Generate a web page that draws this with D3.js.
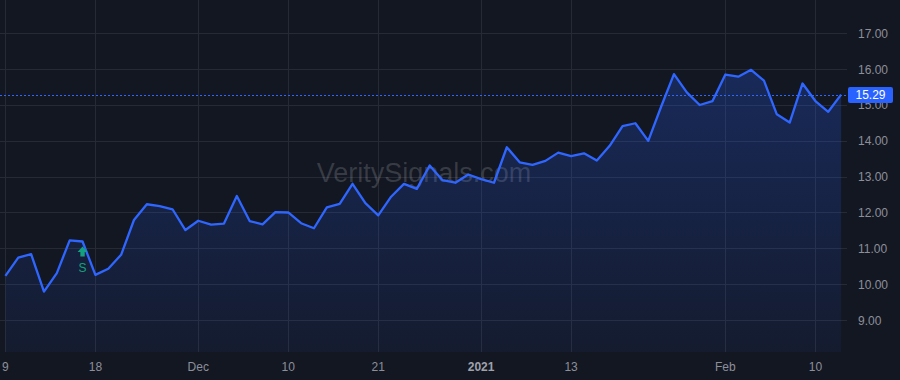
<!DOCTYPE html>
<html>
<head>
<meta charset="utf-8">
<script src="https://cdn.jsdelivr.net/npm/d3@7"></script>
<style>
  html, body { margin: 0; padding: 0; background: #131722; }
  svg { display: block; }
</style>
</head>
<body>
<svg id="chart" width="900" height="380"></svg>
<script>
// ---- data ----
const dates = [
  "2020-11-09","2020-11-10","2020-11-11","2020-11-12","2020-11-13","2020-11-16","2020-11-17","2020-11-18","2020-11-19","2020-11-20",
  "2020-11-23","2020-11-24","2020-11-25","2020-11-27","2020-11-30",
  "2020-12-01","2020-12-02","2020-12-03","2020-12-04","2020-12-07","2020-12-08","2020-12-09","2020-12-10","2020-12-11","2020-12-14",
  "2020-12-15","2020-12-16","2020-12-17","2020-12-18","2020-12-21","2020-12-22","2020-12-23","2020-12-24","2020-12-28","2020-12-29",
  "2020-12-30","2020-12-31",
  "2021-01-04","2021-01-05","2021-01-06","2021-01-07","2021-01-08","2021-01-11","2021-01-12","2021-01-13","2021-01-14","2021-01-15",
  "2021-01-19","2021-01-20","2021-01-21","2021-01-22","2021-01-25","2021-01-26","2021-01-27","2021-01-28","2021-01-29",
  "2021-02-01","2021-02-02","2021-02-03","2021-02-04","2021-02-05","2021-02-08","2021-02-09","2021-02-10","2021-02-11","2021-02-12"
];
const prices = [
  10.23,10.74,10.84,9.79,10.31,11.22,11.19,10.26,10.43,10.82,
  11.79,12.23,12.18,12.09,11.51,
  11.77,11.66,11.69,12.46,11.76,11.67,12.01,12.00,11.70,11.56,
  12.14,12.24,12.80,12.26,11.92,12.44,12.80,12.66,13.31,12.90,
  12.83,13.06,
  12.93,12.83,13.82,13.40,13.33,13.44,13.67,13.57,13.65,13.45,
  13.86,14.41,14.49,14.00,14.95,15.86,15.35,15.00,15.11,
  15.85,15.79,15.98,15.68,14.74,14.51,15.60,15.11,14.81,15.29
];
const xTickDates  = ["2020-11-09","2020-11-18","2020-12-01","2020-12-10","2020-12-21","2021-01-04","2021-01-13","2021-02-01","2021-02-10"];
const xTickLabels = ["9","18","Dec","10","21","2021","13","Feb","10"];
const boldTicks   = ["2021"];
const yTicks      = [9, 10, 11, 12, 13, 14, 15, 16, 17];
const signalDates  = ["2020-11-17"];
const signalLabels = ["S"];
const lastPrice = 15.29;
const watermark = "VeritySignals.com";

// ---- layout ----
const W = 900, H = 380;
const plotRight = 847, plotBottom = 352;
const svg = d3.select("#chart");
const font = "'Liberation Sans', Arial, sans-serif";

const x = d3.scalePoint().domain(dates).range([5.4, 841.1]);
const y = d3.scaleLinear().domain([9, 17]).range([320, 33.3]);

svg.append("rect").attr("width", W).attr("height", H).attr("fill", "#131722");

// grid
const grid = svg.append("g");
grid.selectAll("line.h").data(yTicks).enter().append("line")
  .attr("x1", 0).attr("x2", plotRight)
  .attr("y1", d => Math.round(y(d)) + 0.5).attr("y2", d => Math.round(y(d)) + 0.5)
  .attr("stroke", "#262a35").attr("stroke-width", 1);
grid.selectAll("line.v").data(xTickDates).enter().append("line")
  .attr("x1", d => Math.round(x(d)) + 0.5).attr("x2", d => Math.round(x(d)) + 0.5)
  .attr("y1", 0).attr("y2", plotBottom)
  .attr("stroke", "#262a35").attr("stroke-width", 1);

// watermark
svg.append("text")
  .attr("x", 424).attr("y", 182)
  .attr("text-anchor", "middle")
  .attr("font-family", font).attr("font-size", 27)
  .attr("fill", "rgba(255,255,255,0.16)")
  .text(watermark);

// gradient
const defs = svg.append("defs");
const grad = defs.append("linearGradient").attr("id", "areaGrad")
  .attr("gradientUnits", "userSpaceOnUse")
  .attr("x1", 0).attr("x2", 0)
  .attr("y1", y(d3.max(prices))).attr("y2", plotBottom);
grad.append("stop").attr("offset", 0).attr("stop-color", "#2962ff").attr("stop-opacity", 0.25);
grad.append("stop").attr("offset", 1).attr("stop-color", "#2962ff").attr("stop-opacity", 0.06);

const series = dates.map((d, i) => ({ d, v: prices[i] }));

svg.append("path").datum(series)
  .attr("d", d3.area().x(p => x(p.d)).y0(plotBottom).y1(p => y(p.v)))
  .attr("fill", "url(#areaGrad)");

svg.append("path").datum(series)
  .attr("d", d3.line().x(p => x(p.d)).y(p => y(p.v)))
  .attr("fill", "none").attr("stroke", "#2f66ff").attr("stroke-width", 2.3)
  .attr("stroke-linejoin", "round");

// last price dotted line
svg.append("line")
  .attr("x1", 0).attr("x2", plotRight)
  .attr("y1", Math.round(y(lastPrice)) + 0.5).attr("y2", Math.round(y(lastPrice)) + 0.5)
  .attr("stroke", "#2f66ff").attr("stroke-width", 1).attr("stroke-dasharray", "2,2")
  .attr("shape-rendering", "crispEdges");

// signal markers
const sig = svg.append("g");
signalDates.forEach((sd, i) => {
  const cx = x(sd);
  const pv = prices[dates.indexOf(sd)];
  const top = y(pv) + 5;
  sig.append("path")
    .attr("d", `M${cx},${top} L${cx + 5},${top + 5.5} L${cx + 2.2},${top + 5.5} L${cx + 2.2},${top + 10} L${cx - 2.2},${top + 10} L${cx - 2.2},${top + 5.5} L${cx - 5},${top + 5.5} Z`)
    .attr("fill", "#14a17f");
  sig.append("text")
    .attr("x", cx).attr("y", top + 25)
    .attr("text-anchor", "middle")
    .attr("font-family", font).attr("font-size", 12)
    .attr("fill", "#14a17f")
    .text(signalLabels[i]);
});

// y axis labels
svg.append("g").selectAll("text").data(yTicks).enter().append("text")
  .attr("x", 858).attr("y", d => y(d) + 4.5)
  .attr("font-family", font).attr("font-size", 12)
  .attr("fill", "#8c8f99")
  .text(d => d3.format(".2f")(d));

// last price label (covers part of the 15.00 tick label, as in the reference)
const ly = y(lastPrice);
svg.append("rect")
  .attr("x", 848).attr("y", Math.round(ly) - 8).attr("width", 45).attr("height", 16)
  .attr("rx", 2).attr("fill", "#2962ff");
svg.append("text")
  .attr("x", 870.5).attr("y", ly + 4.5)
  .attr("text-anchor", "middle")
  .attr("font-family", font).attr("font-size", 12)
  .attr("fill", "#ffffff")
  .text(d3.format(".2f")(lastPrice));

// x axis labels
svg.append("g").selectAll("text").data(xTickDates).enter().append("text")
  .attr("x", d => x(d)).attr("y", 371)
  .attr("text-anchor", "middle")
  .attr("font-family", font).attr("font-size", 12)
  .attr("font-weight", (d, i) => boldTicks.includes(xTickLabels[i]) ? "bold" : "normal")
  .attr("fill", (d, i) => boldTicks.includes(xTickLabels[i]) ? "#9fa2ab" : "#8c8f99")
  .text((d, i) => xTickLabels[i]);
</script>
</body>
</html>
